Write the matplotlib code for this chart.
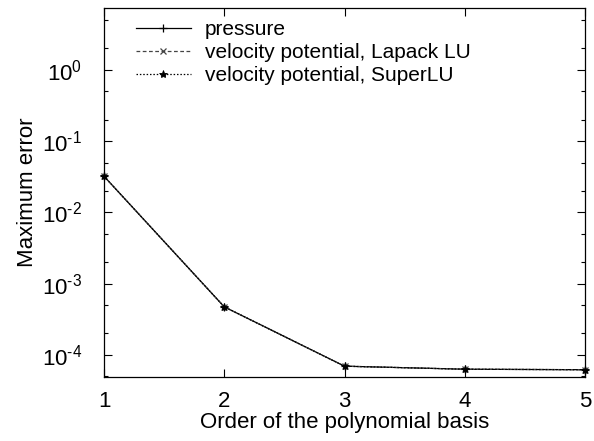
import matplotlib
matplotlib.use("Agg")
import matplotlib.pyplot as plt
from matplotlib.ticker import LogLocator, FixedLocator, NullFormatter, FuncFormatter
import numpy as np

plt.rcParams['font.family'] = ['Liberation Sans', 'DejaVu Sans']
plt.rcParams['mathtext.fontset'] = 'custom'
plt.rcParams['mathtext.rm'] = 'Liberation Sans'

order = [1, 2, 3, 4, 5]
pressure = [0.0322, 4.73e-4, 6.95e-5, 6.3e-5, 6.2e-5]
vel_lapack = [0.0322, 4.73e-4, 6.95e-5, 6.3e-5, 6.2e-5]
vel_superlu = [0.0322, 4.73e-4, 6.95e-5, 6.3e-5, 6.2e-5]
y_major = [1e-4, 1e-3, 1e-2, 1e-1, 1e0]

fig = plt.figure(figsize=(5.94, 4.41), dpi=100)
ax = fig.add_axes([104 / 594, 1 - 377 / 441, (585 - 104) / 594, (377 - 8) / 441])

ax.plot(order, pressure, color='black', lw=0.9, marker='+', ms=6, mew=0.9,
        label='pressure', clip_on=False)
ax.plot(order, vel_lapack, color='#444444', lw=0.9, ls=(0, (3, 2)), marker='x',
        ms=5, mew=0.9, label='velocity potential, Lapack LU', clip_on=False)
ax.plot(order, vel_superlu, color='black', lw=0.9, ls=(0, (1.2, 1.5)), marker='*',
        ms=6, mew=0.6, label='velocity potential, SuperLU', clip_on=False)

ax.set_yscale('log')
ax.set_xlim(1, 5)
ax.set_ylim(4.9e-5, 7.4)
ax.set_xticks(order)
ax.yaxis.set_major_locator(FixedLocator(y_major))
ax.yaxis.set_major_formatter(FuncFormatter(
    lambda v, p: r'$10^{\text{%d}}$' % int(round(np.log10(v)))))
ax.yaxis.set_minor_locator(LogLocator(base=10, subs=(2.0, 5.0)))
ax.yaxis.set_minor_formatter(NullFormatter())

ax.tick_params(which='both', direction='in', top=True, right=True, labelsize=16,
               width=0.8, colors='black')
ax.tick_params(which='major', length=6)
ax.tick_params(axis='y', which='major', pad=16)
ax.tick_params(axis='x', which='major', pad=10)
ax.tick_params(which='minor', length=3)
for s in ax.spines.values():
    s.set_linewidth(0.9)

ax.set_xlabel('Order of the polynomial basis', fontsize=16, labelpad=0)
ax.set_ylabel('Maximum error', fontsize=16)
ax.yaxis.set_label_coords(-0.137, 0.5)

ax.legend(loc='upper left', frameon=False, fontsize=15, handlelength=2.6,
          handletextpad=0.7, labelspacing=0.2, borderaxespad=0.0,
          bbox_to_anchor=(0.05, 0.99))

fig.savefig('out.png', dpi=100)
